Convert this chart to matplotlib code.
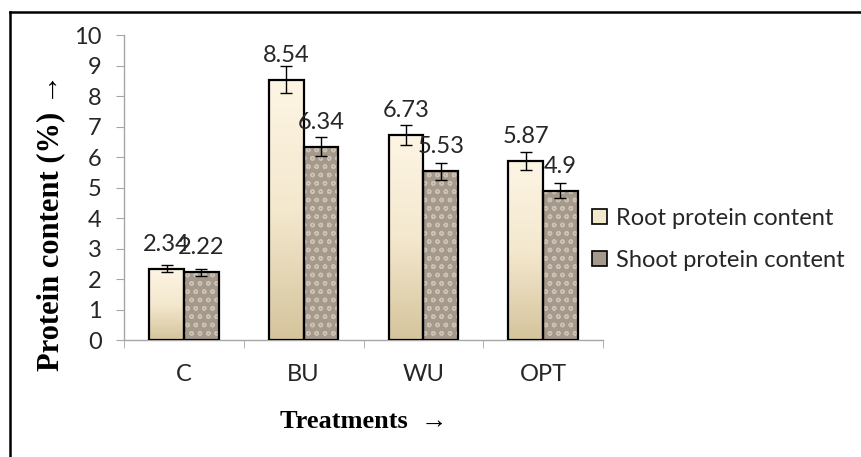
import matplotlib
matplotlib.use("Agg")
import matplotlib.pyplot as plt
import numpy as np
from matplotlib.lines import Line2D
from matplotlib.patches import Patch

treatments = ["C", "BU", "WU", "OPT"]
root_protein = [2.34, 8.54, 6.73, 5.87]
shoot_protein = [2.22, 6.34, 5.53, 4.90]
root_err = [0.12, 0.45, 0.33, 0.28]
shoot_err = [0.12, 0.30, 0.28, 0.26]
y_ticks = list(range(0, 11))

SANS = ["Lato", "DejaVu Sans"]
SERIF = ["Liberation Serif", "DejaVu Serif"]
AXIS_GRAY = "#A6A6A6"
TEXT = "#262626"

fig = plt.figure(figsize=(8.62, 4.57), dpi=100)
ax = fig.add_axes([0.1439, 0.256, 0.5556, 0.6674])

x = np.arange(len(treatments))
width = 0.29

root_bars = ax.bar(x - width / 2, root_protein, width, facecolor="none",
                   edgecolor="black", linewidth=1.6, zorder=3)
ax.bar(x + width / 2, shoot_protein, width, facecolor="#A5998B",
       edgecolor="#CBC1B4", hatch="oo", linewidth=0, zorder=2)
ax.bar(x + width / 2, shoot_protein, width, facecolor="none",
       edgecolor="black", linewidth=1.6, zorder=3)

# cream-to-tan vertical gradient inside the root bars
grad = np.linspace(0, 1, 256).reshape(-1, 1)
cmap = matplotlib.colors.LinearSegmentedColormap.from_list(
    "root", ["#D5C49C", "#F4E8CE", "#FDF5E4"])
for bar in root_bars:
    bx, by = bar.get_x(), bar.get_y()
    im = ax.imshow(grad, cmap=cmap, origin="lower", aspect="auto",
                   extent=(bx, bx + bar.get_width(), by, by + bar.get_height()),
                   zorder=2)
    im.set_clip_path(bar)

ax.errorbar(x - width / 2, root_protein, yerr=root_err, fmt="none",
            ecolor="black", elinewidth=1, capsize=4.5, capthick=1, zorder=4)
ax.errorbar(x + width / 2, shoot_protein, yerr=shoot_err, fmt="none",
            ecolor="black", elinewidth=1, capsize=4.5, capthick=1, zorder=4)

for xs, vals in ((x - width / 2, root_protein), (x + width / 2, shoot_protein)):
    for xi, v in zip(xs, vals):
        ax.annotate(f"{v:g}", (xi, v), xytext=(0, 10), textcoords="offset points",
                    ha="center", va="bottom", fontsize=17, family=SANS,
                    color=TEXT, zorder=5)

ax.set_xlim(-0.5, len(treatments) - 0.5)
ax.set_ylim(0, 10)
ax.set_yticks(y_ticks)
ax.set_xticks(x)
ax.set_xticklabels(treatments)
ax.set_xticks(np.arange(-0.5, len(treatments)), minor=True)
ax.tick_params(axis="x", which="major", length=0, pad=17)
ax.tick_params(axis="x", which="minor", length=6, color=AXIS_GRAY, direction="out")
ax.tick_params(axis="y", length=6, color=AXIS_GRAY, direction="out", pad=10)
for lab in ax.get_xticklabels() + ax.get_yticklabels():
    lab.set_family(SANS)
    lab.set_fontsize(17)
    lab.set_color(TEXT)

for side in ("top", "right"):
    ax.spines[side].set_visible(False)
for side in ("left", "bottom"):
    ax.spines[side].set_color(AXIS_GRAY)
    ax.spines[side].set_linewidth(1)

ax.set_xlabel("Treatments  \u2192", family=SERIF, fontweight="bold", fontsize=19)
ax.xaxis.set_label_coords(0.5, -0.23)
ax.set_ylabel("Protein content (%) \u2192", family=SERIF, fontweight="bold", fontsize=22)
ax.yaxis.set_label_coords(-0.122, 0.385)

handles = [
    Patch(facecolor="#F3E7CC", edgecolor="black", linewidth=1.2),
    Patch(facecolor="#A5998B", edgecolor="black", linewidth=1.2),
]
leg = ax.legend(handles, ["Root protein content", "Shoot protein content"],
                loc="center left", frameon=False, prop={"family": SANS, "size": 17},
                handlelength=0.6, handleheight=0.6, handletextpad=0.4,
                labelspacing=0.9, borderaxespad=0, borderpad=0)
leg.set_bbox_to_anchor((1.0 - 0.022, 0.33), transform=ax.transAxes)
for t in leg.get_texts():
    t.set_color(TEXT)

# outer frame of the chart area (cropped at right and bottom)
fig.add_artist(Line2D([10 / 862, 1.0], [1 - 12 / 457] * 2, color="black", linewidth=1.8))
fig.add_artist(Line2D([10 / 862] * 2, [0.0, 1 - 12 / 457], color="black", linewidth=1.8))

fig.savefig("out.png", dpi=100)
